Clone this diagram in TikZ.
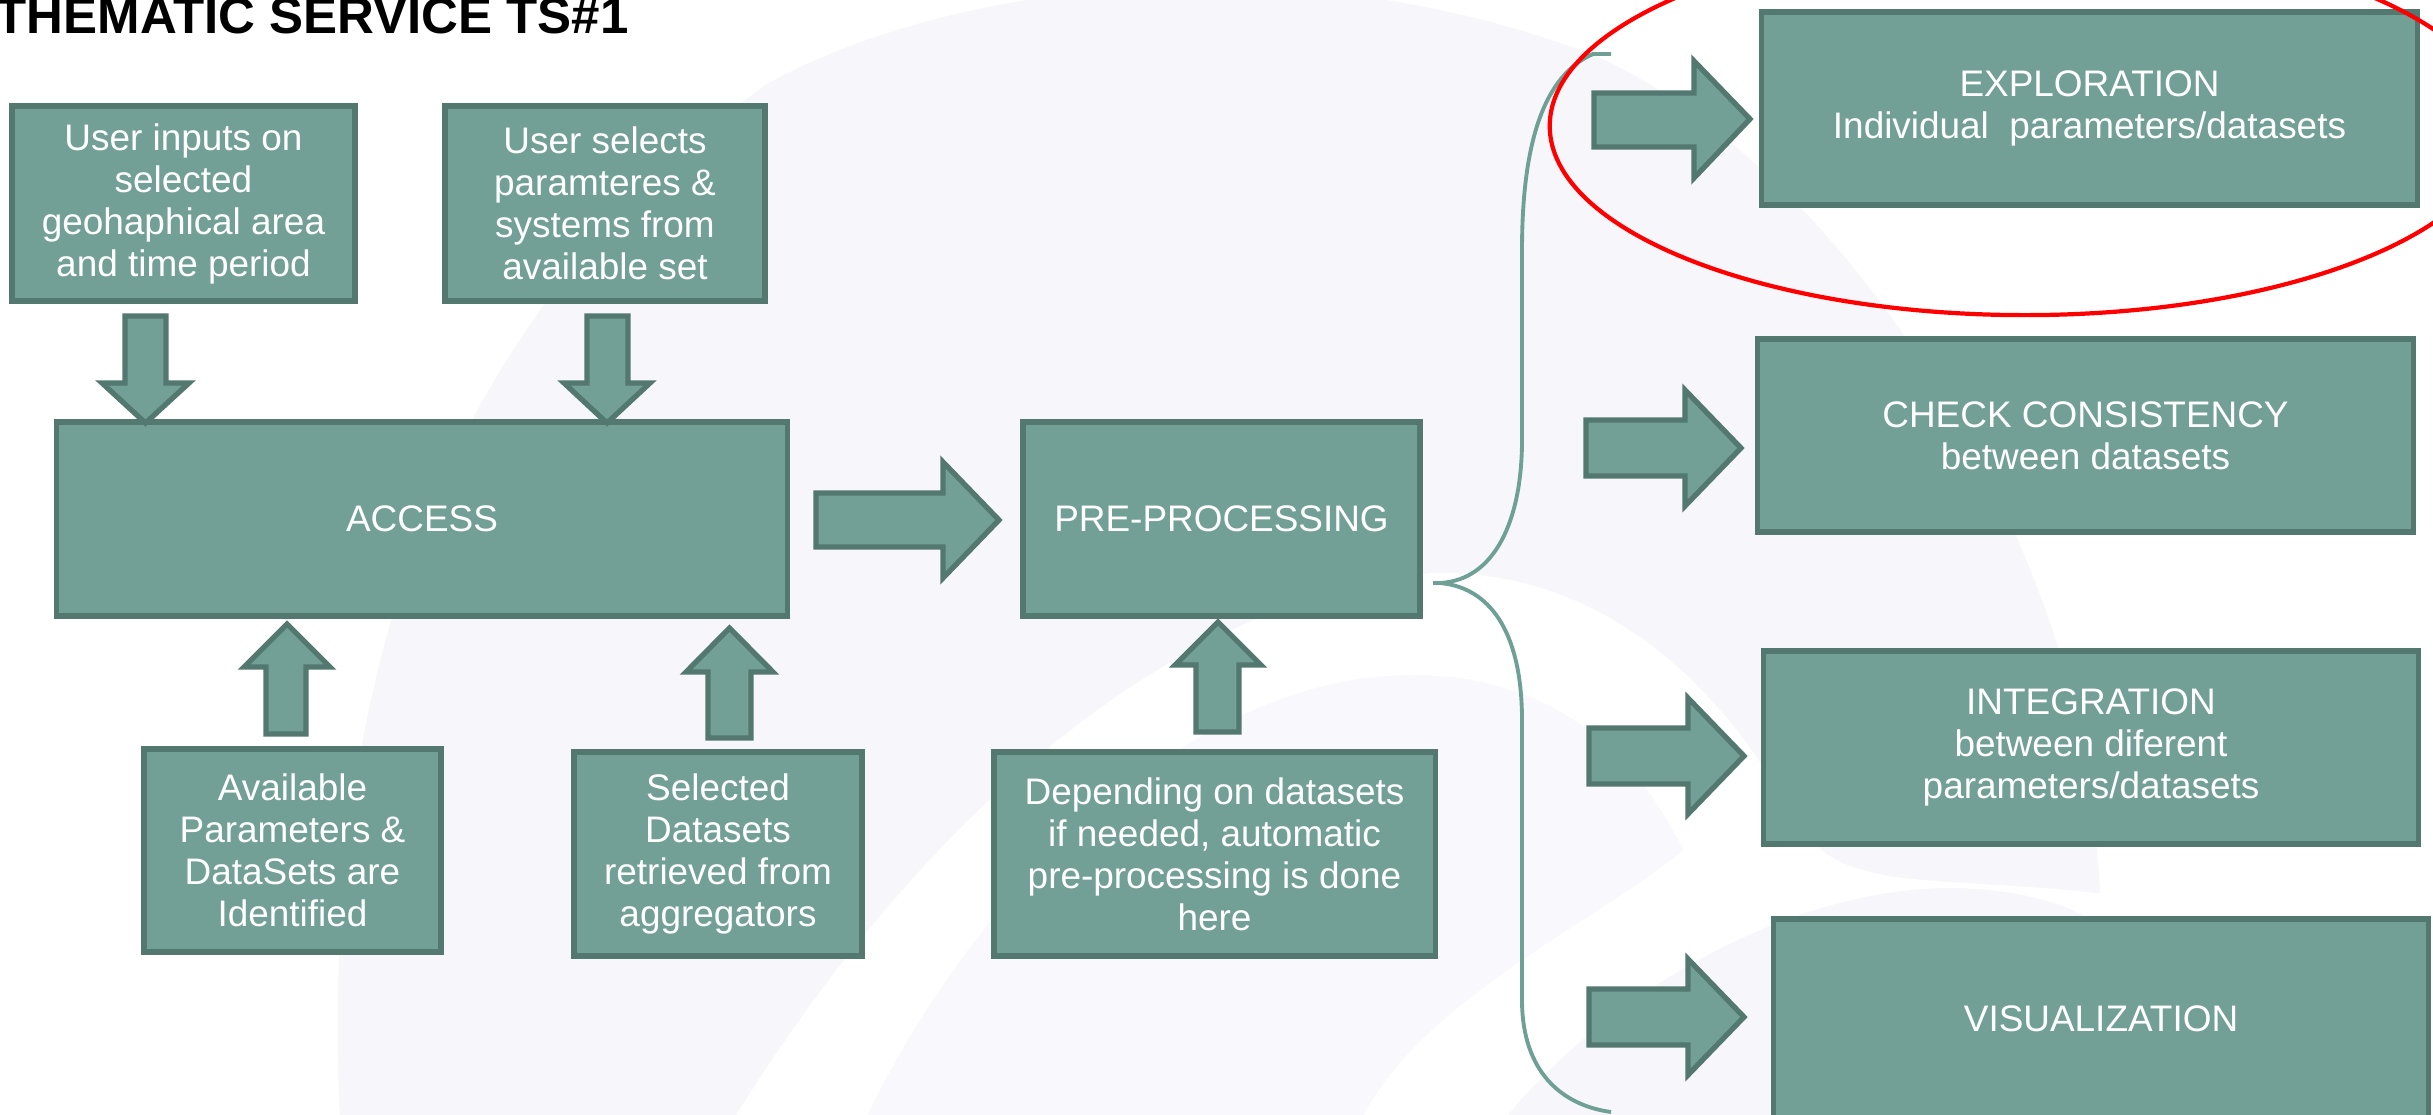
\documentclass[tikz,border=0pt]{standalone}
\usepackage{fontspec}
\setmainfont{Liberation Sans}
\definecolor{boxfill}{HTML}{72A096}
\definecolor{boxline}{HTML}{537870}
\definecolor{bracecol}{HTML}{6FA096}
\definecolor{wmA}{HTML}{F7F7FB}
\definecolor{wmD}{HTML}{F9F9FD}
\tikzset{
  stepbox/.style={draw=boxline, fill=boxfill, line width=1.5pt, text=white,
    align=center, inner sep=0pt,
    font=\fontsize{10.5pt}{11.95pt}\selectfont},
  barrow/.style={draw=boxline, fill=boxfill, line width=1.5pt, line join=miter},
  bracepath/.style={draw=bracecol, line width=1.1pt},
}
\begin{document}
\begin{tikzpicture}[x=0.01cm, y=-0.01cm]
\useasboundingbox (0,0) rectangle (2433,1114);
\clip (0,0) rectangle (2433,1114);
\fill[white] (0,0) rectangle (2433,1114);
% faint watermark
\fill[wmA] (340,1120) .. controls (320,700) and (430,330) .. (764,86)
  .. controls (950,-20) and (1300,-60) .. (1598,57)
  .. controls (1800,150) and (1980,400) .. (2059,650)
  .. controls (2100,780) and (2110,950) .. (2100,1120) -- cycle;
\fill[white] (733,1120) .. controls (900,850) and (1150,600) .. (1433,573)
  .. controls (1600,570) and (1720,680) .. (1800,827)
  .. controls (1850,900) and (1950,870) .. (2150,900) -- (2150,1120) -- cycle;
\fill[wmD] (865,1120) .. controls (980,880) and (1200,670) .. (1420,675)
  .. controls (1560,678) and (1640,760) .. (1683,850)
  .. controls (1600,920) and (1420,1000) .. (1361,1120) -- cycle;
\fill[wmA] (1504,1120) .. controls (1600,1000) and (1780,890) .. (1947,888)
  .. controls (2020,888) and (2070,905) .. (2100,925) -- (2100,1120) -- cycle;

% title
\node[anchor=base west, inner sep=0pt, font=\bfseries\fontsize{14.5pt}{17pt}\selectfont] (title) at (-5,33) {THEMATIC SERVICE TS\#1};

% brace
\draw[bracepath] (1611,54) -- (1593,54) .. controls (1545,75) and (1522,140) .. (1522,250)
  -- (1522,440) .. controls (1522,520) and (1495,580) .. (1440,583) -- (1433,583);
\draw[bracepath] (1433,583) -- (1440,583) .. controls (1495,588) and (1522,640) .. (1522,720)
  -- (1522,1000) .. controls (1522,1070) and (1560,1105) .. (1611,1112);

% boxes
\node[stepbox, minimum width=3.43cm, minimum height=1.95cm] (in1) at (183.5,203.5) {User inputs on\\selected\\geohaphical area\\and time period};
\node[stepbox, minimum width=3.20cm, minimum height=1.95cm] (in2) at (605,203.5) {User selects\\paramteres \&\\systems from\\available set};
\node[stepbox, minimum width=7.30cm, minimum height=1.94cm] (access) at (422,519) {ACCESS};
\node[stepbox, minimum width=3.97cm, minimum height=1.94cm] (pre) at (1221.5,519) {PRE-PROCESSING};
\node[stepbox, minimum width=2.97cm, minimum height=2.03cm] (avail) at (292.5,850.5) {Available\\Parameters \&\\DataSets are\\Identified};
\node[stepbox, minimum width=2.88cm, minimum height=2.04cm] (sel) at (718,854) {Selected\\Datasets\\retrieved from\\aggregators};
\node[stepbox, minimum width=4.41cm, minimum height=2.04cm] (dep) at (1214.5,854) {Depending on datasets\\if needed, automatic\\pre-processing is done\\here};
\node[stepbox, minimum width=6.55cm, minimum height=1.93cm] (expl) at (2089.5,108.5) {EXPLORATION\\Individual\ \ parameters/datasets};
\node[stepbox, minimum width=6.55cm, minimum height=1.93cm] (check) at (2085.5,435.5) {CHECK CONSISTENCY\\between datasets};
\node[stepbox, minimum width=6.54cm, minimum height=1.93cm] (integ) at (2091,747.5) {INTEGRATION\\between diferent\\parameters/datasets};
\node[stepbox, minimum width=6.54cm, minimum height=1.99cm] (vis) at (2101,1018.5) {VISUALIZATION};

% block arrows
\path[barrow] (816,493) -- (943,493) -- (943,462) -- (999,520) -- (943,578) -- (943,547) -- (816,547) -- cycle;
\path[barrow] (1594,93) -- (1694,93) -- (1694,61) -- (1750,119) -- (1694,178) -- (1694,147) -- (1594,147) -- cycle;
\path[barrow] (1586,420) -- (1685,420) -- (1685,390) -- (1741,448) -- (1685,506) -- (1685,476) -- (1586,476) -- cycle;
\path[barrow] (1589,728) -- (1688,728) -- (1688,698) -- (1744,756) -- (1688,814) -- (1688,784) -- (1589,784) -- cycle;
\path[barrow] (1589,989) -- (1688,989) -- (1688,959) -- (1744,1017) -- (1688,1075) -- (1688,1045) -- (1589,1045) -- cycle;
\path[barrow] (125,316) -- (166,316) -- (166,383) -- (189,383) -- (145.5,423) -- (102,383) -- (125,383) -- cycle;
\path[barrow] (587,316) -- (628,316) -- (628,383) -- (650,383) -- (607,423) -- (564,383) -- (587,383) -- cycle;
\path[barrow] (266,734) -- (306,734) -- (306,667) -- (330,667) -- (287,624) -- (244,667) -- (266,667) -- cycle;
\path[barrow] (708,738) -- (751,738) -- (751,672) -- (773,672) -- (729.5,628) -- (686,672) -- (708,672) -- cycle;
\path[barrow] (1196,732) -- (1239,732) -- (1239,665) -- (1261,665) -- (1218,622) -- (1175,665) -- (1196,665) -- cycle;

% red ellipse
\draw[red, line width=1.2pt] (2025,126) ellipse [x radius=4.75cm, y radius=1.89cm];
\end{tikzpicture}
\end{document}
